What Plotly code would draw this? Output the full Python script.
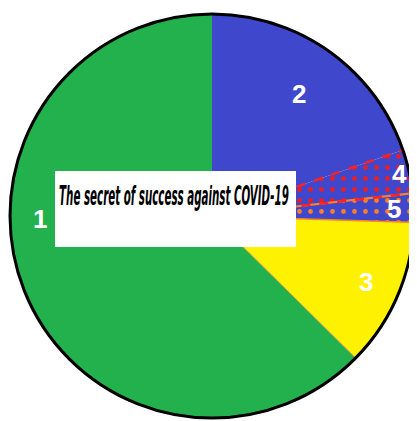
import math
import plotly.graph_objects as go

# ---- data (clockwise from 12 o'clock) ----
labels = ["2", "4", "5", "3", "1"]
values = [19.7, 3.5, 2.3, 11.9, 62.6]
title_text = "The secret of success against COVID-19"

# ---- styles / layout (window pixels; page body has an 8px margin) ----
OFF = 8
W, H = 417 - OFF, 421 - OFF
cx, cy, R = 212, 216, 202
slice_colors = ["#3F48CC", "#3F48CC", "#3F48CC", "#FFF200", "#22B14C"]
pattern_shape = ["", ".", ".", "", ""]
pattern_fg = ["#3F48CC", "#ED1C24", "#FF7F27", "#FFF200", "#22B14C"]
label_radius = {"2": 0.74, "4": 0.95, "5": 0.9, "3": 0.83, "1": 0.85}
label_angle_override = {"1": 269.0}


def px_to_paper(x, y):
    return (x - OFF) / W, 1 - (y - OFF) / H


def polar(theta_deg, rf):
    t = math.radians(theta_deg)
    return px_to_paper(cx + R * rf * math.sin(t), cy - R * rf * math.cos(t))


total = sum(values)
bounds = [0.0]
for v in values:
    bounds.append(bounds[-1] + 360.0 * v / total)

dx0, dy0 = px_to_paper(cx - R, cy + R)
dx1, dy1 = px_to_paper(cx + R, cy - R)

fig = go.Figure(
    go.Pie(
        labels=labels,
        values=values,
        sort=False,
        direction="clockwise",
        rotation=0,
        textinfo="none",
        hoverinfo="skip",
        marker=dict(
            colors=slice_colors,
            line=dict(width=0),
            pattern=dict(shape=pattern_shape, fgcolor=pattern_fg,
                         bgcolor=slice_colors, size=11, solidity=0.15),
        ),
        domain=dict(x=[dx0, dx1], y=[dy0, dy1]),
    )
)

shapes = []
# dashed boundaries for the patterned slices (derived from data)
boundary_styles = [
    (bounds[1], "#FF2020", 2.5, "dash"),
    (bounds[2], "#FF7F27", 2.0, "solid"),
    (bounds[2], "#FF2020", 2.5, "dash"),
    (bounds[3], "#FF7F27", 1.5, "solid"),
    (bounds[4], "#FFA040", 1.0, "solid"),
]
for ang, col, w, dash in boundary_styles:
    x0, y0 = polar(ang, 0.0)
    x1, y1 = polar(ang, 1.0)
    shapes.append(dict(type="line", xref="paper", yref="paper", x0=x0, y0=y0,
                       x1=x1, y1=y1, line=dict(color=col, width=w, dash=dash),
                       layer="above"))

# outline circle
shapes.append(dict(type="circle", xref="paper", yref="paper",
                   x0=dx0, x1=dx1, y0=dy0, y1=dy1,
                   line=dict(color="black", width=3), layer="above"))

# white title box
bx0, by0 = px_to_paper(55, 247)
bx1, by1 = px_to_paper(296, 171)
shapes.append(dict(type="rect", xref="paper", yref="paper", x0=bx0, y0=by0,
                   x1=bx1, y1=by1, fillcolor="white", line=dict(width=0),
                   layer="above"))

annotations = []
tx, ty = px_to_paper(57, 195)
annotations.append(dict(text=title_text, x=tx, y=ty, xref="paper", yref="paper",
                        xanchor="left", yanchor="middle", showarrow=False,
                        font=dict(family="Liberation Sans Narrow, DejaVu Sans Condensed, Liberation Sans",
                                  size=27, color="black", weight="bold", style="italic")))

for i, lab in enumerate(labels):
    mid = (bounds[i] + bounds[i + 1]) / 2
    ang = label_angle_override.get(lab, mid)
    lx, ly = polar(ang, label_radius[lab])
    annotations.append(dict(text=lab, x=lx, y=ly, xref="paper", yref="paper",
                            xanchor="center", yanchor="middle", showarrow=False,
                            font=dict(family="Liberation Sans, Arial", size=26,
                                      color="white", weight="bold")))

fig.update_layout(
    width=W, height=H,
    margin=dict(l=0, r=0, t=0, b=0),
    paper_bgcolor="white", plot_bgcolor="white",
    showlegend=False,
    shapes=shapes,
    annotations=annotations,
)

# condense the title text horizontally so it fits the box like the original
post_js = """
(function(){
  var gd = document.getElementById('{plot_id}');
  function squeeze(){
    var el = gd.querySelector('g.annotation[data-index="0"] text.annotation-text');
    if(!el) return;
    el.removeAttribute('transform');
    var b = el.getBBox();
    if(!b.width) return;
    var sx = 230 / b.width;
    el.setAttribute('transform', 'translate(' + b.x + ',0) scale(' + sx + ',1) translate(' + (-b.x) + ',0)');
  }
  squeeze();
  gd.on && gd.on('plotly_afterplot', squeeze);
})();
"""

fig.write_html("out.html", post_script=post_js)
